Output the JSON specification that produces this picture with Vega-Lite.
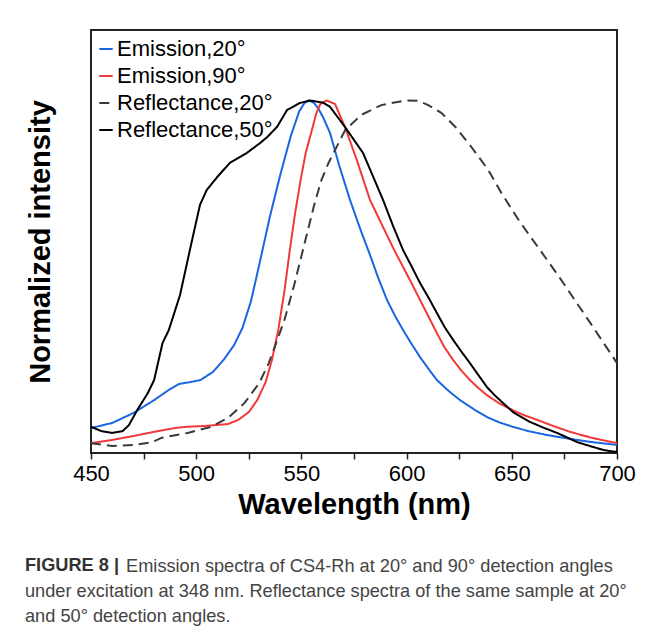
{
  "$schema": "https://vega.github.io/schema/vega-lite/v6.json",
  "width": 526,
  "height": 423,
  "autosize": "none",
  "padding": {"left": 91, "top": 30, "right": 40, "bottom": 185},
  "background": "white",
  "title": {
    "text": "FIGURE 8 |",
    "subtitle": [
      "\u200b\u00a0\u00a0\u00a0\u00a0\u00a0\u00a0\u00a0\u00a0\u00a0\u00a0\u00a0\u00a0\u00a0\u00a0\u00a0\u00a0\u00a0\u00a0\u00a0\u00a0Emission spectra of CS4-Rh at 20° and 90° detection angles",
      "under excitation at 348 nm. Reflectance spectra of the same sample at 20°",
      "and 50° detection angles."
    ],
    "orient": "bottom",
    "anchor": "start",
    "frame": "bounds",
    "font": "Liberation Sans",
    "fontSize": 18.2,
    "fontWeight": "bold",
    "color": "#333333",
    "lineHeight": 25,
    "subtitleFont": "Liberation Sans",
    "subtitleFontSize": 18.2,
    "subtitleFontWeight": "normal",
    "subtitleColor": "#444444",
    "subtitleLineHeight": 25,
    "subtitlePadding": -17,
    "offset": 38,
    "dx": -1
  },
  "data": {
    "values": [
      {"series": "Emission,20°", "wavelength": 450, "intensity": 0.071},
      {"series": "Emission,20°", "wavelength": 460, "intensity": 0.085},
      {"series": "Emission,20°", "wavelength": 470, "intensity": 0.113},
      {"series": "Emission,20°", "wavelength": 480, "intensity": 0.150},
      {"series": "Emission,20°", "wavelength": 487, "intensity": 0.179},
      {"series": "Emission,20°", "wavelength": 492, "intensity": 0.196},
      {"series": "Emission,20°", "wavelength": 497, "intensity": 0.201},
      {"series": "Emission,20°", "wavelength": 502, "intensity": 0.207},
      {"series": "Emission,20°", "wavelength": 508, "intensity": 0.230},
      {"series": "Emission,20°", "wavelength": 513, "intensity": 0.264},
      {"series": "Emission,20°", "wavelength": 518, "intensity": 0.306},
      {"series": "Emission,20°", "wavelength": 522, "intensity": 0.355},
      {"series": "Emission,20°", "wavelength": 526, "intensity": 0.430},
      {"series": "Emission,20°", "wavelength": 530, "intensity": 0.535},
      {"series": "Emission,20°", "wavelength": 535, "intensity": 0.670},
      {"series": "Emission,20°", "wavelength": 540, "intensity": 0.790},
      {"series": "Emission,20°", "wavelength": 545, "intensity": 0.900},
      {"series": "Emission,20°", "wavelength": 549, "intensity": 0.970},
      {"series": "Emission,20°", "wavelength": 551.5, "intensity": 0.993},
      {"series": "Emission,20°", "wavelength": 553.5, "intensity": 1.0},
      {"series": "Emission,20°", "wavelength": 556, "intensity": 0.993},
      {"series": "Emission,20°", "wavelength": 558, "intensity": 0.978},
      {"series": "Emission,20°", "wavelength": 560.5, "intensity": 0.950},
      {"series": "Emission,20°", "wavelength": 563.6, "intensity": 0.908},
      {"series": "Emission,20°", "wavelength": 568, "intensity": 0.815},
      {"series": "Emission,20°", "wavelength": 573.1, "intensity": 0.718},
      {"series": "Emission,20°", "wavelength": 578, "intensity": 0.635},
      {"series": "Emission,20°", "wavelength": 582.6, "intensity": 0.562},
      {"series": "Emission,20°", "wavelength": 586.5, "intensity": 0.497},
      {"series": "Emission,20°", "wavelength": 590.7, "intensity": 0.434},
      {"series": "Emission,20°", "wavelength": 594.5, "intensity": 0.389},
      {"series": "Emission,20°", "wavelength": 598.3, "intensity": 0.349},
      {"series": "Emission,20°", "wavelength": 602.5, "intensity": 0.308},
      {"series": "Emission,20°", "wavelength": 606.4, "intensity": 0.272},
      {"series": "Emission,20°", "wavelength": 610.5, "intensity": 0.238},
      {"series": "Emission,20°", "wavelength": 614.4, "intensity": 0.207},
      {"series": "Emission,20°", "wavelength": 620, "intensity": 0.176},
      {"series": "Emission,20°", "wavelength": 625.4, "intensity": 0.150},
      {"series": "Emission,20°", "wavelength": 632, "intensity": 0.124},
      {"series": "Emission,20°", "wavelength": 638.2, "intensity": 0.102},
      {"series": "Emission,20°", "wavelength": 644, "intensity": 0.087},
      {"series": "Emission,20°", "wavelength": 650.6, "intensity": 0.074},
      {"series": "Emission,20°", "wavelength": 658, "intensity": 0.062},
      {"series": "Emission,20°", "wavelength": 666.7, "intensity": 0.051},
      {"series": "Emission,20°", "wavelength": 677.7, "intensity": 0.040},
      {"series": "Emission,20°", "wavelength": 688, "intensity": 0.031},
      {"series": "Emission,20°", "wavelength": 700, "intensity": 0.023},

      {"series": "Emission,90°", "wavelength": 450, "intensity": 0.028},
      {"series": "Emission,90°", "wavelength": 460, "intensity": 0.037},
      {"series": "Emission,90°", "wavelength": 470, "intensity": 0.048},
      {"series": "Emission,90°", "wavelength": 480, "intensity": 0.060},
      {"series": "Emission,90°", "wavelength": 490, "intensity": 0.071},
      {"series": "Emission,90°", "wavelength": 495, "intensity": 0.074},
      {"series": "Emission,90°", "wavelength": 505, "intensity": 0.077},
      {"series": "Emission,90°", "wavelength": 515, "intensity": 0.082},
      {"series": "Emission,90°", "wavelength": 520, "intensity": 0.094},
      {"series": "Emission,90°", "wavelength": 525, "intensity": 0.116},
      {"series": "Emission,90°", "wavelength": 529, "intensity": 0.150},
      {"series": "Emission,90°", "wavelength": 533, "intensity": 0.201},
      {"series": "Emission,90°", "wavelength": 536, "intensity": 0.264},
      {"series": "Emission,90°", "wavelength": 539, "intensity": 0.349},
      {"series": "Emission,90°", "wavelength": 542, "intensity": 0.462},
      {"series": "Emission,90°", "wavelength": 544.5, "intensity": 0.576},
      {"series": "Emission,90°", "wavelength": 547, "intensity": 0.680},
      {"series": "Emission,90°", "wavelength": 549.5, "intensity": 0.770},
      {"series": "Emission,90°", "wavelength": 552, "intensity": 0.850},
      {"series": "Emission,90°", "wavelength": 554.5, "intensity": 0.905},
      {"series": "Emission,90°", "wavelength": 557, "intensity": 0.962},
      {"series": "Emission,90°", "wavelength": 559, "intensity": 0.990},
      {"series": "Emission,90°", "wavelength": 562, "intensity": 1.0},
      {"series": "Emission,90°", "wavelength": 566, "intensity": 0.990},
      {"series": "Emission,90°", "wavelength": 570.7, "intensity": 0.925},
      {"series": "Emission,90°", "wavelength": 576.4, "intensity": 0.830},
      {"series": "Emission,90°", "wavelength": 582.6, "intensity": 0.718},
      {"series": "Emission,90°", "wavelength": 588.8, "intensity": 0.641},
      {"series": "Emission,90°", "wavelength": 593.5, "intensity": 0.583},
      {"series": "Emission,90°", "wavelength": 598.3, "intensity": 0.528},
      {"series": "Emission,90°", "wavelength": 602.5, "intensity": 0.480},
      {"series": "Emission,90°", "wavelength": 606.4, "intensity": 0.434},
      {"series": "Emission,90°", "wavelength": 610.5, "intensity": 0.386},
      {"series": "Emission,90°", "wavelength": 614.4, "intensity": 0.340},
      {"series": "Emission,90°", "wavelength": 618, "intensity": 0.300},
      {"series": "Emission,90°", "wavelength": 622.1, "intensity": 0.264},
      {"series": "Emission,90°", "wavelength": 626, "intensity": 0.234},
      {"series": "Emission,90°", "wavelength": 630.1, "intensity": 0.207},
      {"series": "Emission,90°", "wavelength": 634, "intensity": 0.185},
      {"series": "Emission,90°", "wavelength": 638.2, "intensity": 0.164},
      {"series": "Emission,90°", "wavelength": 644, "intensity": 0.141},
      {"series": "Emission,90°", "wavelength": 650.6, "intensity": 0.121},
      {"series": "Emission,90°", "wavelength": 656, "intensity": 0.107},
      {"series": "Emission,90°", "wavelength": 662, "intensity": 0.094},
      {"series": "Emission,90°", "wavelength": 670, "intensity": 0.076},
      {"series": "Emission,90°", "wavelength": 677.7, "intensity": 0.060},
      {"series": "Emission,90°", "wavelength": 688, "intensity": 0.043},
      {"series": "Emission,90°", "wavelength": 700, "intensity": 0.028},

      {"series": "Reflectance,20°", "wavelength": 450, "intensity": 0.028},
      {"series": "Reflectance,20°", "wavelength": 460, "intensity": 0.020},
      {"series": "Reflectance,20°", "wavelength": 471, "intensity": 0.023},
      {"series": "Reflectance,20°", "wavelength": 479, "intensity": 0.031},
      {"series": "Reflectance,20°", "wavelength": 483.5, "intensity": 0.043},
      {"series": "Reflectance,20°", "wavelength": 496, "intensity": 0.057},
      {"series": "Reflectance,20°", "wavelength": 507, "intensity": 0.074},
      {"series": "Reflectance,20°", "wavelength": 515, "intensity": 0.099},
      {"series": "Reflectance,20°", "wavelength": 523, "intensity": 0.142},
      {"series": "Reflectance,20°", "wavelength": 530, "intensity": 0.199},
      {"series": "Reflectance,20°", "wavelength": 534.5, "intensity": 0.255},
      {"series": "Reflectance,20°", "wavelength": 538, "intensity": 0.312},
      {"series": "Reflectance,20°", "wavelength": 541.9, "intensity": 0.377},
      {"series": "Reflectance,20°", "wavelength": 546.6, "intensity": 0.477},
      {"series": "Reflectance,20°", "wavelength": 551.3, "intensity": 0.590},
      {"series": "Reflectance,20°", "wavelength": 556.1, "intensity": 0.704},
      {"series": "Reflectance,20°", "wavelength": 559.5, "intensity": 0.774},
      {"series": "Reflectance,20°", "wavelength": 562.9, "intensity": 0.823},
      {"series": "Reflectance,20°", "wavelength": 570.8, "intensity": 0.916},
      {"series": "Reflectance,20°", "wavelength": 578.4, "intensity": 0.959},
      {"series": "Reflectance,20°", "wavelength": 588, "intensity": 0.987},
      {"series": "Reflectance,20°", "wavelength": 599.4, "intensity": 1.0},
      {"series": "Reflectance,20°", "wavelength": 605.6, "intensity": 0.999},
      {"series": "Reflectance,20°", "wavelength": 610.3, "intensity": 0.987},
      {"series": "Reflectance,20°", "wavelength": 616.5, "intensity": 0.965},
      {"series": "Reflectance,20°", "wavelength": 623.2, "intensity": 0.925},
      {"series": "Reflectance,20°", "wavelength": 630.8, "intensity": 0.868},
      {"series": "Reflectance,20°", "wavelength": 638.8, "intensity": 0.803},
      {"series": "Reflectance,20°", "wavelength": 645, "intensity": 0.738},
      {"series": "Reflectance,20°", "wavelength": 653.9, "intensity": 0.655},
      {"series": "Reflectance,20°", "wavelength": 663.4, "intensity": 0.576},
      {"series": "Reflectance,20°", "wavelength": 672.9, "intensity": 0.496},
      {"series": "Reflectance,20°", "wavelength": 687.2, "intensity": 0.370},
      {"series": "Reflectance,20°", "wavelength": 700, "intensity": 0.255},

      {"series": "Reflectance,50°", "wavelength": 450, "intensity": 0.074},
      {"series": "Reflectance,50°", "wavelength": 455, "intensity": 0.062},
      {"series": "Reflectance,50°", "wavelength": 460, "intensity": 0.057},
      {"series": "Reflectance,50°", "wavelength": 465, "intensity": 0.062},
      {"series": "Reflectance,50°", "wavelength": 468, "intensity": 0.079},
      {"series": "Reflectance,50°", "wavelength": 472, "intensity": 0.122},
      {"series": "Reflectance,50°", "wavelength": 477, "intensity": 0.170},
      {"series": "Reflectance,50°", "wavelength": 480, "intensity": 0.207},
      {"series": "Reflectance,50°", "wavelength": 484, "intensity": 0.312},
      {"series": "Reflectance,50°", "wavelength": 487, "intensity": 0.349},
      {"series": "Reflectance,50°", "wavelength": 492.3, "intensity": 0.448},
      {"series": "Reflectance,50°", "wavelength": 497, "intensity": 0.576},
      {"series": "Reflectance,50°", "wavelength": 501.8, "intensity": 0.704},
      {"series": "Reflectance,50°", "wavelength": 505, "intensity": 0.746},
      {"series": "Reflectance,50°", "wavelength": 510, "intensity": 0.783},
      {"series": "Reflectance,50°", "wavelength": 516, "intensity": 0.823},
      {"series": "Reflectance,50°", "wavelength": 524, "intensity": 0.851},
      {"series": "Reflectance,50°", "wavelength": 530.3, "intensity": 0.879},
      {"series": "Reflectance,50°", "wavelength": 533.7, "intensity": 0.896},
      {"series": "Reflectance,50°", "wavelength": 538.4, "intensity": 0.925},
      {"series": "Reflectance,50°", "wavelength": 543.2, "intensity": 0.973},
      {"series": "Reflectance,50°", "wavelength": 549.3, "intensity": 0.993},
      {"series": "Reflectance,50°", "wavelength": 554, "intensity": 1.0},
      {"series": "Reflectance,50°", "wavelength": 560.3, "intensity": 0.994},
      {"series": "Reflectance,50°", "wavelength": 563.6, "intensity": 0.982},
      {"series": "Reflectance,50°", "wavelength": 570.7, "intensity": 0.925},
      {"series": "Reflectance,50°", "wavelength": 579.3, "intensity": 0.851},
      {"series": "Reflectance,50°", "wavelength": 588.8, "intensity": 0.718},
      {"series": "Reflectance,50°", "wavelength": 593.5, "intensity": 0.645},
      {"series": "Reflectance,50°", "wavelength": 598.3, "intensity": 0.576},
      {"series": "Reflectance,50°", "wavelength": 602.5, "intensity": 0.528},
      {"series": "Reflectance,50°", "wavelength": 606.4, "intensity": 0.482},
      {"series": "Reflectance,50°", "wavelength": 610.5, "intensity": 0.440},
      {"series": "Reflectance,50°", "wavelength": 614.4, "intensity": 0.397},
      {"series": "Reflectance,50°", "wavelength": 618, "intensity": 0.358},
      {"series": "Reflectance,50°", "wavelength": 622.1, "intensity": 0.321},
      {"series": "Reflectance,50°", "wavelength": 626, "intensity": 0.288},
      {"series": "Reflectance,50°", "wavelength": 630.1, "intensity": 0.255},
      {"series": "Reflectance,50°", "wavelength": 634, "intensity": 0.222},
      {"series": "Reflectance,50°", "wavelength": 638.2, "intensity": 0.187},
      {"series": "Reflectance,50°", "wavelength": 642, "intensity": 0.163},
      {"series": "Reflectance,50°", "wavelength": 645.8, "intensity": 0.142},
      {"series": "Reflectance,50°", "wavelength": 650.6, "intensity": 0.116},
      {"series": "Reflectance,50°", "wavelength": 658.7, "intensity": 0.088},
      {"series": "Reflectance,50°", "wavelength": 665, "intensity": 0.072},
      {"series": "Reflectance,50°", "wavelength": 671.5, "intensity": 0.057},
      {"series": "Reflectance,50°", "wavelength": 676, "intensity": 0.045},
      {"series": "Reflectance,50°", "wavelength": 681, "intensity": 0.031},
      {"series": "Reflectance,50°", "wavelength": 687, "intensity": 0.020},
      {"series": "Reflectance,50°", "wavelength": 693.3, "intensity": 0.009},
      {"series": "Reflectance,50°", "wavelength": 697, "intensity": 0.005},
      {"series": "Reflectance,50°", "wavelength": 700, "intensity": 0.003}
    ]
  },
  "mark": {"type": "line", "strokeWidth": 2, "clip": true},
  "encoding": {
    "x": {
      "field": "wavelength",
      "type": "quantitative",
      "scale": {"domain": [450, 700], "nice": false, "zero": false},
      "axis": {
        "title": "Wavelength (nm)",
        "values": [450, 475, 500, 525, 550, 575, 600, 625, 650, 675, 700],
        "labelExpr": "datum.value % 50 === 0 ? datum.label : ''",
        "labelFlush": false,
        "labelOverlap": false,
        "grid": false,
        "domain": false,
        "tickSize": 6,
        "tickWidth": 1.5,
        "tickColor": "#222222",
        "labelPadding": 4,
        "labelFont": "Liberation Sans",
        "labelFontSize": 22,
        "labelColor": "#000000",
        "titleFont": "Liberation Sans",
        "titleFontSize": 29,
        "titleFontWeight": "bold",
        "titleColor": "#000000",
        "titlePadding": 6,
        "encode": {
          "ticks": {
            "update": {
              "y2": {"signal": "datum.value % 50 === 0 ? -8 : -5"}
            }
          }
        }
      }
    },
    "y": {
      "field": "intensity",
      "type": "quantitative",
      "scale": {"domain": [0, 1.2], "nice": false, "zero": false},
      "axis": {
        "title": "Normalized intensity",
        "labels": false,
        "ticks": false,
        "domain": false,
        "grid": false,
        "titleFont": "Liberation Sans",
        "titleFontSize": 29,
        "titleFontWeight": "bold",
        "titleColor": "#000000",
        "titlePadding": 36
      }
    },
    "color": {
      "field": "series",
      "type": "nominal",
      "scale": {
        "domain": ["Emission,20°", "Emission,90°", "Reflectance,20°", "Reflectance,50°"],
        "range": ["#1a66e0", "#f03a3a", "#3a3a3a", "#000000"]
      },
      "legend": {
        "title": null,
        "orient": "none",
        "legendX": 4,
        "legendY": 8,
        "symbolType": "stroke",
        "symbolSize": 180,
        "symbolStrokeWidth": 2,
        "labelFont": "Liberation Sans",
        "labelFontSize": 22,
        "labelColor": "#000000",
        "labelOffset": 0,
        "rowPadding": 5,
        "padding": 0,
        "encode": {
          "symbols": {
            "update": {
              "strokeDash": {"signal": "datum.value === 'Reflectance,20°' ? [5, 3] : [1, 0]"}
            }
          }
        }
      }
    },
    "strokeDash": {
      "field": "series",
      "type": "nominal",
      "scale": {
        "domain": ["Emission,20°", "Emission,90°", "Reflectance,20°", "Reflectance,50°"],
        "range": [[1, 0], [1, 0], [10, 6], [1, 0]]
      }
    }
  },
  "config": {
    "view": {"stroke": "#222222", "strokeWidth": 2}
  }
}
